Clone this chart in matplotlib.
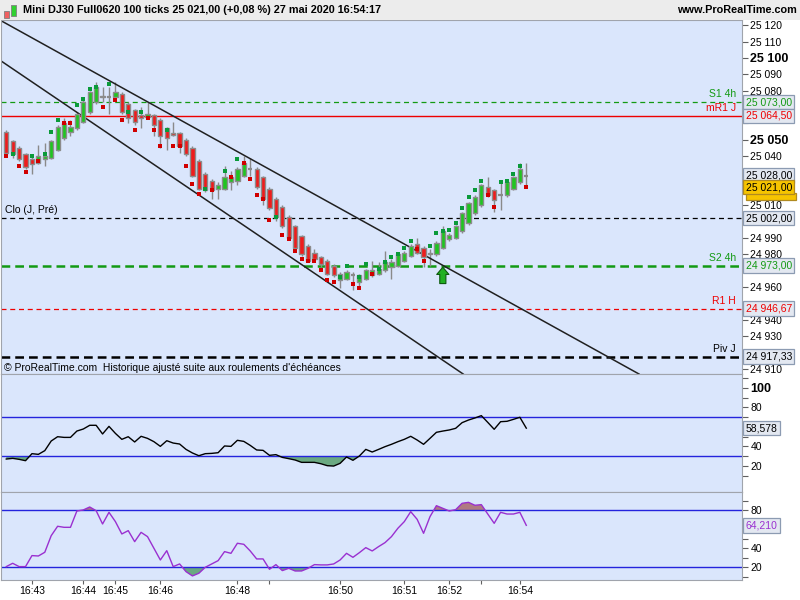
import numpy as np
import matplotlib
matplotlib.use('Agg')
import matplotlib.pyplot as plt
from matplotlib.patches import Rectangle
from matplotlib.ticker import FixedLocator, FuncFormatter

plt.rcParams['font.family'] = ['Liberation Sans', 'DejaVu Sans']

# 100-tick candles, Mini DJ30
open_ = [25055, 25049, 25045, 25041, 25038, 25036, 25038, 25039, 25044, 25051,
         25055, 25057, 25061, 25067, 25073, 25077, 25076, 25076, 25078, 25072,
         25068, 25065, 25064, 25065, 25062, 25057, 25054, 25054, 25050, 25045,
         25037, 25029, 25025, 25020, 25020, 25024, 25025, 25028, 25032, 25032,
         25027, 25020, 25014, 25009, 25003, 24997, 24991, 24985, 24981, 24978,
         24976, 24973, 24964, 24965, 24967, 24963, 24965, 24967, 24968, 24970,
         24972, 24973, 24976, 24979, 24986, 24984, 24981, 24980, 24984, 24989,
         24990, 24994, 24999, 25005, 25010, 25021, 25019, 25016, 25016, 25020,
         25024, 25028]
high = [25056, 25050, 25046, 25042, 25040, 25047, 25048, 25050, 25059, 25063,
        25062, 25067, 25074, 25080, 25085, 25082, 25082, 25085, 25079, 25073,
        25069, 25070, 25073, 25066, 25063, 25058, 25061, 25055, 25051, 25046,
        25038, 25030, 25026, 25024, 25034, 25031, 25033, 25040, 25039, 25033,
        25028, 25021, 25015, 25010, 25004, 24998, 24992, 24986, 24983, 24979,
        24977, 24974, 24969, 24970, 24969, 24968, 24971, 24976, 24975, 24982,
        24977, 24981, 24982, 24986, 24990, 24985, 24983, 24988, 24997, 24993,
        24998, 25006, 25012, 25016, 25023, 25027, 25020, 25025, 25025, 25028,
        25036, 25036]
low = [25041, 25039, 25037, 25032, 25029, 25035, 25034, 25038, 25043, 25050,
       25052, 25056, 25060, 25066, 25072, 25073, 25066, 25075, 25066, 25060,
       25059, 25057, 25063, 25052, 25045, 25044, 25052, 25042, 25040, 25027,
       25019, 25018, 25014, 25014, 25019, 25019, 25022, 25027, 25028, 25020,
       25010, 25007, 25000, 24996, 24989, 24983, 24979, 24975, 24976, 24972,
       24967, 24966, 24959, 24964, 24958, 24960, 24964, 24966, 24967, 24969,
       24965, 24972, 24975, 24978, 24980, 24972, 24973, 24979, 24983, 24988,
       24989, 24993, 24998, 25004, 25009, 25015, 25006, 25007, 25015, 25019,
       25023, 25021]
close = [25042, 25041, 25038, 25033, 25035, 25040, 25040, 25049, 25058, 25060,
         25058, 25066, 25073, 25079, 25082, 25076, 25076, 25079, 25067, 25063,
         25061, 25063, 25066, 25059, 25052, 25051, 25053, 25046, 25041, 25028,
         25020, 25019, 25019, 25022, 25027, 25027, 25032, 25036, 25032, 25021,
         25014, 25008, 25003, 24997, 24990, 24984, 24980, 24976, 24977, 24974,
         24968, 24967, 24968, 24969, 24967, 24967, 24970, 24970, 24971, 24975,
         24975, 24980, 24981, 24985, 24981, 24978, 24980, 24987, 24994, 24992,
         24997, 25005, 25011, 25015, 25022, 25016, 25013, 25016, 25024, 25027,
         25032, 25028]

# signal squares
green_idx = [1, 4, 6, 7, 8, 11, 12, 13, 14, 16, 19, 21, 25, 31, 34, 36, 42, 52, 53, 55,
             56, 58, 59, 60, 61, 62, 63, 66, 67, 68, 69, 70, 71, 72, 73, 74, 77, 78, 79, 80]
green_px = [25041, 25040, 25041, 25055, 25062, 25071, 25075, 25081, 25082, 25084,
            25067, 25067, 25056, 25020, 25031, 25038, 25003, 24966, 24973, 24966,
            24974, 24971, 24975, 24978, 24980, 24984, 24988, 24985, 24993, 24994,
            24995, 24999, 25008, 25015, 25019, 25025, 25024, 25025, 25029, 25034]
red_idx = [0, 2, 3, 5, 9, 10, 15, 17, 18, 20, 22, 23, 24, 26, 27, 28, 29, 30, 32, 35,
           37, 38, 39, 40, 41, 43, 44, 45, 46, 47, 48, 49, 50, 51, 54, 55, 57, 64, 65, 75,
           76, 81]
red_px = [25040, 25034, 25030, 25037, 25060, 25060, 25070, 25074, 25062, 25056,
          25063, 25056, 25046, 25046, 25046, 25034, 25023, 25017, 25019, 25027,
          25036, 25026, 25016, 25014, 25001, 24992, 24989, 24982, 24977, 24976,
          24976, 24970, 24964, 24963, 24962, 24959, 24968, 24983, 24976, 25016,
          25009, 25021]

# RSI-like panel
rsi = [26.9, 27.6, 26.6, 25.2, 32.4, 31.7, 35.5, 45.4, 49.8, 49.1,
       49.1, 55.6, 57.7, 61.5, 61.5, 52.6, 60.4, 53.2, 47.1, 49.8,
       44.4, 50.2, 48.1, 44.7, 39.9, 45.7, 43.3, 42.3, 36.8, 33.1,
       30.3, 32.4, 32.7, 33.4, 40.3, 39.9, 46.1, 45.0, 40.9, 36.2,
       35.8, 30.7, 31.4, 28.6, 27.3, 25.9, 23.5, 23.5, 23.5, 22.1,
       20.1, 19.7, 22.5, 29.0, 25.6, 30.0, 36.8, 34.1, 36.8, 39.6,
       42.0, 44.7, 47.1, 50.2, 46.4, 42.0, 48.1, 54.3, 55.6, 56.7,
       58.4, 64.2, 66.9, 69.0, 71.4, 64.5, 57.4, 65.2, 65.6, 67.6,
       69.7, 58.578]
# stochastic panel
stoch = [20.7, 24.2, 20.7, 20.7, 32.3, 31.9, 35.8, 53.3, 63.2, 62.1,
         62.1, 79.3, 80.4, 83.5, 79.6, 65.6, 77.9, 68.1, 55.1, 58.6,
         47.0, 56.8, 52.3, 40.0, 27.7, 37.5, 20.7, 23.5, 15.4, 10.9,
         13.7, 20.0, 23.5, 27.0, 36.5, 34.7, 45.3, 44.2, 37.2, 28.8,
         28.8, 17.9, 22.8, 16.5, 18.9, 16.1, 16.1, 18.9, 22.8, 22.5,
         22.5, 23.5, 27.7, 34.7, 30.5, 35.4, 40.7, 37.2, 41.8, 46.0,
         52.3, 61.1, 68.1, 78.6, 70.5, 55.8, 73.3, 84.9, 82.1, 79.3,
         80.7, 87.4, 88.4, 85.3, 86.0, 76.1, 66.3, 77.9, 76.1, 76.1,
         77.9, 64.21]

# support / resistance levels
lvl_price = [25073.00, 25064.50, 25002.00, 24973.00, 24946.67, 24917.33]
lvl_name = ['S1 4h', 'mR1 J', 'Clo (J, Pré)', 'S2 4h', 'R1 H', 'Piv J']
lvl_color = ['#139a13', '#ee0000', '#000000', '#139a13', '#ee0000', '#000000']

# channel lines (two anchor points each)
chan_upper = [(0, 25121.0), (90, 24925.3)]
chan_lower = [(0, 25096.0), (60, 24936.4)]

time_idx = [4, 12, 17, 24, 36, 41, 52, 62, 69, 74, 80]
time_lbl = ['16:43', '16:44', '16:45', '16:46', '16:48', '', '16:50', '16:51', '16:52', '', '16:54']

last_price = 25021.00
bar_high_lbl = 25028.00
signal_bar = 68

BG = '#dae6fc'
EDGE = '#a0a4ac'
n = len(close)
x = np.arange(n)

# price values that carry a boxed label on the right axis
boxed = lvl_price + [bar_high_lbl, last_price]


def fmt_price(v, pos=None):
    # tick labels hidden where a value box sits on top of them
    if min(abs(v - b) for b in boxed) < 5.5:
        return ''
    return '{:,.0f}'.format(v).replace(',', ' ')


def fmt_box(v):
    return '{:,.2f}'.format(v).replace(',', ' ').replace('.', ',')


fig = plt.figure(figsize=(8, 6), dpi=100)
W, H = 800, 600

# header bar
fig.patches.append(Rectangle((0, 1 - 20 / H), 1, 20 / H, transform=fig.transFigure,
                             facecolor='#ececec', edgecolor='none'))
fig.patches.append(Rectangle((4 / W, 1 - 18 / H), 5 / W, 7 / H, transform=fig.transFigure,
                             facecolor='#f06060', edgecolor='#808080', lw=0.6))
fig.patches.append(Rectangle((11 / W, 1 - 16 / H), 5 / W, 11 / H, transform=fig.transFigure,
                             facecolor='#30d030', edgecolor='#808080', lw=0.6))
fig.text(23 / W, 1 - 10 / H, 'Mini DJ30 Full0620 100 ticks 25 021,00 (+0,08 %) 27 mai 2020 16:54:17',
         fontsize=7.8, fontweight='bold', va='center', ha='left')
fig.text(797 / W, 1 - 10 / H, 'www.ProRealTime.com', fontsize=7.8, fontweight='bold',
         va='center', ha='right')

left, width = 1 / W, 741 / W
ax = fig.add_axes([left, 1 - 374 / H, width, 354 / H])
ax2 = fig.add_axes([left, 1 - 492 / H, width, 118 / H], sharex=ax)
ax3 = fig.add_axes([left, 1 - 580 / H, width, 88 / H], sharex=ax)

for a in (ax, ax2, ax3):
    a.set_facecolor(BG)
    for s in a.spines.values():
        s.set_color(EDGE)
    a.yaxis.tick_right()
    a.tick_params(axis='y', direction='out', length=4, width=0.8, color='#606060',
                  labelsize=7.5, pad=2)

ax.set_xlim(-0.82, 114.6)
ax.set_ylim(24906.7, 25123.2)

# candles
bw = 0.66
for i in range(n):
    o, h, l, c = open_[i], high[i], low[i], close[i]
    ax.vlines(x[i], l, h, color='#8a8a8a', lw=1, zorder=2)
    if o == c:
        ax.hlines(c, x[i] - bw / 2, x[i] + bw / 2, color='#8a8a8a', lw=1.6, zorder=3)
        continue
    fc = '#20c520' if c > o else '#ee1c1c'
    ax.add_patch(Rectangle((x[i] - bw / 2, min(o, c)), bw, abs(c - o), facecolor=fc,
                           edgecolor='#8c8c8c', lw=1, zorder=3))

ax.scatter(green_idx, green_px, marker='s', s=9, color='#0a9a3a', zorder=4, linewidths=0)
ax.scatter(red_idx, red_px, marker='s', s=9, color='#d00000', zorder=4, linewidths=0)

# channel
ax.axline(chan_upper[0], chan_upper[1], color='#202020', lw=1.1, zorder=2.5)
ax.axline(chan_lower[0], chan_lower[1], color='#202020', lw=1.1, zorder=2.5)

# levels
lvl_style = [dict(lw=0.9, ls=(0, (4, 3))), dict(lw=1.0, ls='-'), dict(lw=0.9, ls=(0, (4, 3))),
             dict(lw=1.8, ls=(0, (3.5, 2))), dict(lw=0.9, ls=(0, (4, 3))), dict(lw=1.8, ls=(0, (3.5, 2)))]
for p, name, col, st in zip(lvl_price, lvl_name, lvl_color, lvl_style):
    ax.axhline(p, color=col, zorder=1.5, **st)
    if name.startswith('Clo'):
        ax.annotate(name, (0.005, p), xycoords=('axes fraction', 'data'), xytext=(0, 2),
                    textcoords='offset points', ha='left', va='bottom', fontsize=7.5, color=col)
    else:
        ax.annotate(name, (0.992, p), xycoords=('axes fraction', 'data'), xytext=(0, 2),
                    textcoords='offset points', ha='right', va='bottom', fontsize=7.5, color=col)

# price axis
ax.yaxis.set_major_locator(FixedLocator(np.arange(24910, 25121, 10)))
ax.yaxis.set_major_formatter(FuncFormatter(fmt_price))
fig.canvas.draw()
for lab, v in zip(ax.yaxis.get_ticklabels(), ax.yaxis.get_majorticklocs()):
    if int(round(v)) % 50 == 0:
        lab.set_fontweight('bold')
        lab.set_fontsize(9)

box = dict(boxstyle='square,pad=0.22', fc='#e3e8f1', ec='#8c9bb2', lw=0.9)
trans_r = ax.get_yaxis_transform()
for p, col in zip(lvl_price, lvl_color):
    ax.text(1.005, p, fmt_box(p), transform=trans_r, ha='left', va='center', fontsize=7.5,
            color=col, bbox=box, clip_on=False, zorder=6)
ax.text(1.005, bar_high_lbl, fmt_box(bar_high_lbl), transform=trans_r, ha='left', va='center',
        fontsize=7.5, color='black', bbox=box, clip_on=False, zorder=6)
ybox = dict(boxstyle='square,pad=0.22', fc='#f6c400', ec='#b08a20', lw=0.9)
ax.text(1.005, last_price, fmt_box(last_price), transform=trans_r, ha='left', va='center',
        fontsize=7.5, color='black', bbox=ybox, clip_on=False, zorder=7)
# second yellow tag partly hidden below the first
ax.add_patch(Rectangle((1.005, last_price - 7.6), 0.068, 4.0, transform=trans_r, clip_on=False,
                       facecolor='#f6c400', edgecolor='#b08a20', lw=0.9, zorder=5))

# buy arrow
ax.annotate('', xy=(signal_bar, 24972), xytext=(signal_bar, 24962),
            arrowprops=dict(arrowstyle='simple,head_width=1.1,head_length=0.65,tail_width=0.55',
                            mutation_scale=8, shrinkA=0, shrinkB=0,
                            fc='#22b022', ec='#0d5a0d', lw=0.8), zorder=5)

ax.text(0.004, 0.017, '\u00a9 ProRealTime.com  Historique ajusté suite aux roulements d\'échéances',
        transform=ax.transAxes, fontsize=7.5, ha='left', va='center', zorder=6)

# RSI panel
ax2.set_ylim(-6.9, 114.1)
ax2.plot(x, rsi, color='black', lw=1, zorder=3)
ax2.axhline(70, color='#2424dd', lw=1, zorder=2)
ax2.axhline(30, color='#2424dd', lw=1, zorder=2)
ax2.fill_between(x, rsi, 30, where=np.array(rsi) < 30, interpolate=True, color='#6aa982', lw=0)
ax2.fill_between(x, rsi, 70, where=np.array(rsi) > 70, interpolate=True, color='#b07a82', lw=0)
ax2.yaxis.set_major_locator(FixedLocator(np.arange(10, 111, 10)))
ax2.yaxis.set_major_formatter(FuncFormatter(
    lambda v, p: '%d' % v if v % 20 == 0 and abs(v - rsi[-1]) > 5 else ''))
fig.canvas.draw()
for lab, v in zip(ax2.yaxis.get_ticklabels(), ax2.yaxis.get_majorticklocs()):
    if int(v) == 100:
        lab.set_fontweight('bold')
        lab.set_fontsize(9)
ax2.text(1.005, rsi[-1], ('%.3f' % rsi[-1]).replace('.', ','), transform=ax2.get_yaxis_transform(),
         ha='left', va='center', fontsize=7.5, color='black', bbox=box, clip_on=False, zorder=6)

# stochastic panel
ax3.set_ylim(6.6, 99.3)
ax3.plot(x, stoch, color='#9a30d0', lw=1, zorder=3)
ax3.axhline(80, color='#2424dd', lw=1, zorder=2)
ax3.axhline(20, color='#2424dd', lw=1, zorder=2)
ax3.fill_between(x, stoch, 20, where=np.array(stoch) < 20, interpolate=True, color='#6aa982', lw=0)
ax3.fill_between(x, stoch, 80, where=np.array(stoch) > 80, interpolate=True, color='#b07a82', lw=0)
ax3.yaxis.set_major_locator(FixedLocator(np.arange(10, 91, 10)))
ax3.yaxis.set_major_formatter(FuncFormatter(
    lambda v, p: '%d' % v if v % 20 == 0 and abs(v - stoch[-1]) > 6 else ''))
ax3.text(1.005, stoch[-1], ('%.3f' % stoch[-1]).replace('.', ','), transform=ax3.get_yaxis_transform(),
         ha='left', va='center', fontsize=7.5, color='#9a30d0', bbox=box, clip_on=False, zorder=6)

# time axis
ax3.set_xticks(time_idx)
ax3.set_xticklabels(time_lbl)
ax3.tick_params(axis='x', direction='out', length=3, color='#606060', labelsize=7.5, pad=1.5)
ax.tick_params(axis='x', bottom=False, labelbottom=False)
ax2.tick_params(axis='x', bottom=False, labelbottom=False)

fig.savefig('out.png', dpi=100)
